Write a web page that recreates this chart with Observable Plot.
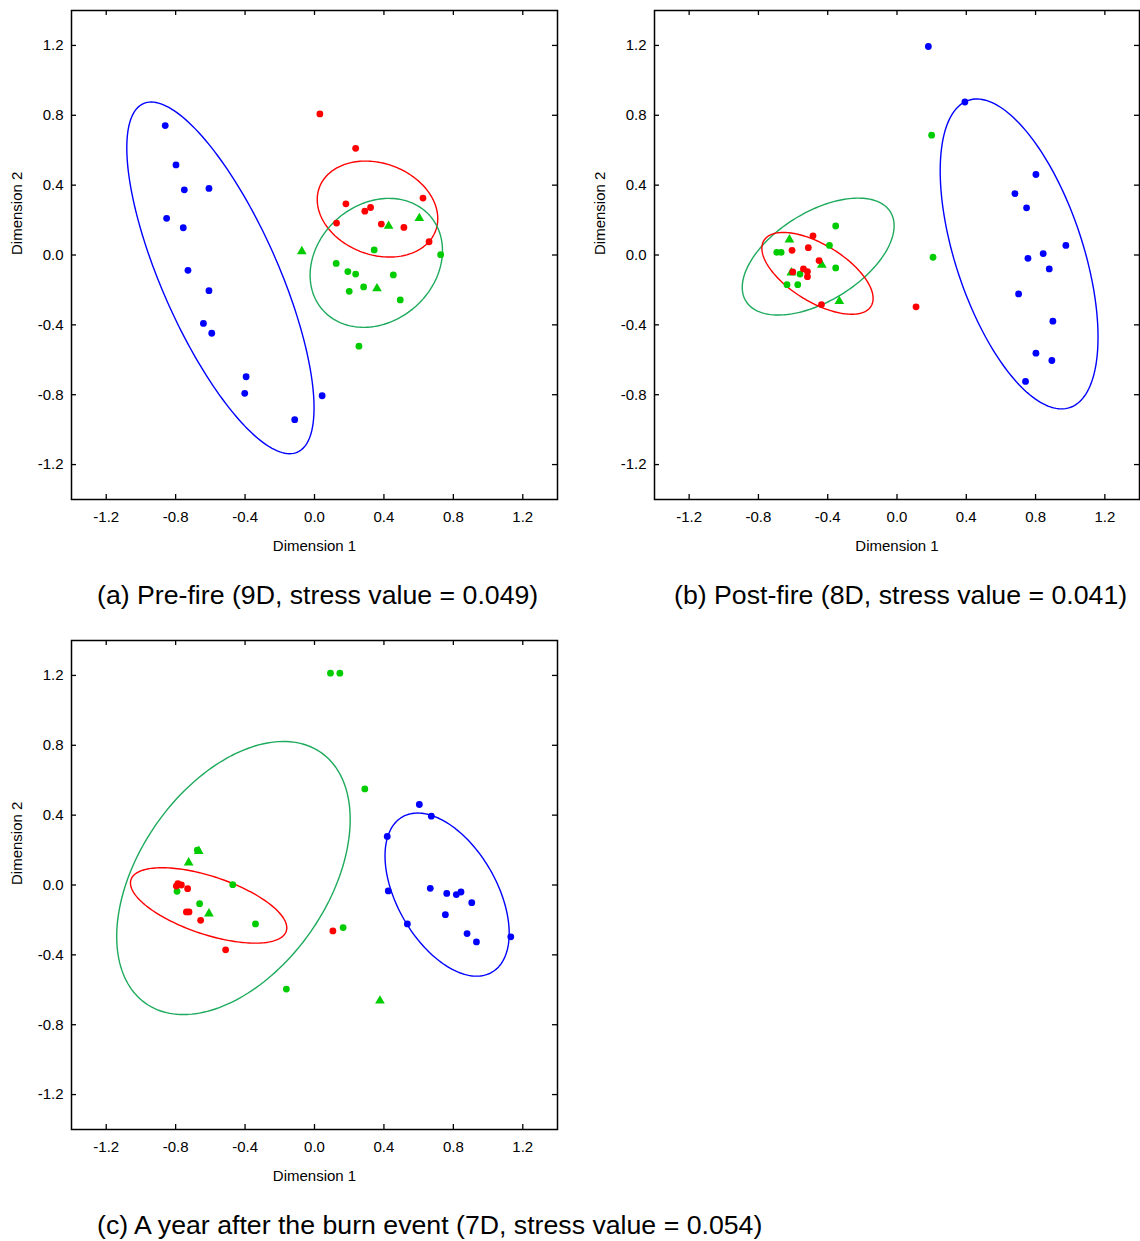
<!DOCTYPE html>
<html>
<head>
<meta charset="utf-8">
<script src="https://cdn.jsdelivr.net/npm/d3@7"></script>
<script src="https://cdn.jsdelivr.net/npm/@observablehq/plot@0.6"></script>
<style>
  body { margin: 0; background: #fff; font-family: Arial, "Liberation Sans", sans-serif; overflow: hidden; }
  #page { position: relative; width: 1140px; height: 1241px; }
  .panel { position: absolute; }
  .panel svg { max-width: none !important; }
  .cap { position: absolute; font-size: 26.7px; line-height: 30px; color: #000; white-space: nowrap; }
</style>
</head>
<body>
<div id="page">
  <div class="panel" id="pa" style="left:0;top:0;width:570px"></div>
  <div class="panel" id="pb" style="left:583px;top:0;width:557px"></div>
  <div class="panel" id="pc" style="left:0;top:630px;width:570px"></div>
  <div class="cap" id="ca" style="left:97px;top:580px">(a) Pre-fire (9D, stress value = 0.049)</div>
  <div class="cap" id="cb" style="left:674px;top:580px">(b) Post-fire (8D, stress value = 0.041)</div>
  <div class="cap" id="cc" style="left:97px;top:1210px">(c) A year after the burn event (7D, stress value = 0.054)</div>
</div>
<script>
// ---------- data ----------
const tickValues = [-1.2, -0.8, -0.4, 0.0, 0.4, 0.8, 1.2];
const axisDomain = [-1.4, 1.4];
const xLabel = "Dimension 1";
const yLabel = "Dimension 2";

// Panel (a) Pre-fire
const aBlue = [[-0.860,0.741],[-0.798,0.516],[-0.750,0.373],[-0.608,0.381],[-0.852,0.210],[-0.756,0.156],[-0.729,-0.088],[-0.608,-0.204],[-0.640,-0.392],[-0.592,-0.448],[-0.394,-0.697],[-0.402,-0.792],[-0.114,-0.943],[0.044,-0.806]];
const aRed = [[0.031,0.808],[0.237,0.611],[0.181,0.293],[0.127,0.183],[0.290,0.251],[0.323,0.272],[0.385,0.177],[0.515,0.158],[0.625,0.326],[0.660,0.076]];
const aGreenDot = [[0.344,0.029],[0.727,0.002],[0.125,-0.048],[0.192,-0.095],[0.237,-0.109],[0.454,-0.114],[0.200,-0.208],[0.283,-0.183],[0.494,-0.257],[0.256,-0.522]];
const aGreenTri = [[-0.073,0.021],[0.427,0.166],[0.604,0.210],[0.360,-0.192]];
// ellipses: [cx, cy, semi-major, semi-minor, angle deg]
const aEllipses = [
  {group: "blue",  params: [-0.542, -0.131, 1.092, 0.335, -66.0]},
  {group: "red",   params: [0.363, 0.263, 0.357, 0.262, -20.0]},
  {group: "green", params: [0.356, -0.045, 0.410, 0.337, 40.2]}
];

// Panel (b) Post-fire
const bBlue = [[0.181,1.194],[0.392,0.876],[0.802,0.461],[0.681,0.352],[0.748,0.270],[0.975,0.055],[0.844,0.008],[0.756,-0.019],[0.879,-0.080],[0.702,-0.223],[0.900,-0.379],[0.802,-0.562],[0.894,-0.604],[0.742,-0.724]];
const bRed = [[-0.485,0.110],[-0.606,0.027],[-0.512,0.042],[-0.450,-0.032],[-0.602,-0.097],[-0.540,-0.080],[-0.517,-0.095],[-0.517,-0.124],[-0.436,-0.284],[0.110,-0.297]];
const bGreenDot = [[-0.354,0.166],[-0.390,0.055],[-0.694,0.015],[-0.669,0.015],[-0.354,-0.074],[-0.560,-0.109],[-0.635,-0.170],[-0.573,-0.170],[0.208,-0.013],[0.200,0.686]];
const bGreenTri = [[-0.621,0.088],[-0.434,-0.057],[-0.610,-0.101],[-0.333,-0.265]];
const bEllipses = [
  {group: "green", params: [-0.455, -0.009, 0.489, 0.255, 31.3]},
  {group: "red",   params: [-0.459, -0.105, 0.362, 0.164, -31.2]},
  {group: "blue",  params: [0.705, 0.006, 0.927, 0.368, -71.6]}
];

// Panel (c) A year after
const cBlue = [[0.604,0.461],[0.673,0.394],[0.419,0.278],[0.425,-0.034],[0.667,-0.019],[0.762,-0.048],[0.817,-0.055],[0.844,-0.040],[0.906,-0.101],[0.754,-0.170],[0.535,-0.223],[0.879,-0.278],[0.933,-0.326],[1.131,-0.297]];
const cRed = [[-0.787,0.008],[-0.767,0.000],[-0.731,-0.021],[-0.796,-0.006],[-0.738,-0.154],[-0.723,-0.154],[-0.656,-0.202],[-0.512,-0.371],[0.106,-0.263]];
const cGreenDot = [[-0.675,0.200],[-0.792,-0.036],[-0.471,0.002],[-0.662,-0.107],[-0.340,-0.223],[0.165,-0.244],[-0.162,-0.596],[0.092,1.213],[0.146,1.213],[0.290,0.550]];
const cGreenTri = [[-0.667,0.194],[-0.725,0.128],[-0.608,-0.164],[0.377,-0.663]];
const cEllipses = [
  {group: "green", params: [-0.467, 0.040, 0.878, 0.541, 54.7]},
  {group: "red",   params: [-0.610, -0.117, 0.471, 0.166, -18.25]},
  {group: "blue",  params: [0.764, -0.055, 0.514, 0.286, -59.8]}
];

// ---------- styles ----------
const dotColor = {blue: "#0000ff", red: "#ff0000", green: "#00cc00"};
const lineColor = {blue: "#0000ff", red: "#ff0000", green: "#1daa5c"};

function ellipsePath(p, n = 180) {
  const [cx, cy, a, b, deg] = p;
  const f = deg * Math.PI / 180;
  const pts = [];
  for (let i = 0; i <= n; i++) {
    const t = 2 * Math.PI * i / n;
    pts.push([cx + a * Math.cos(t) * Math.cos(f) - b * Math.sin(t) * Math.sin(f),
              cy + a * Math.cos(t) * Math.sin(f) + b * Math.sin(t) * Math.cos(f)]);
  }
  return pts;
}

const H = 560, mL = 71, mT = 10, mB = 61;
const frameH = H - mT - mB;

function panel(blue, red, gdot, gtri, ellipses, width, mR) {
  const fw = width - mL - mR;
  const marks = [];
  for (const e of ellipses) {
    marks.push(Plot.line(ellipsePath(e.params), {x: d => d[0], y: d => d[1], stroke: lineColor[e.group], strokeWidth: 1.4, curve: "linear"}));
  }
  marks.push(Plot.dot(blue, {x: d => d[0], y: d => d[1], r: 3.4, fill: dotColor.blue, stroke: "none"}));
  marks.push(Plot.dot(gtri, {x: d => d[0], y: d => d[1], r: 3.6, symbol: "triangle", fill: dotColor.green, stroke: "none"}));
  marks.push(Plot.dot(gdot, {x: d => d[0], y: d => d[1], r: 3.4, fill: dotColor.green, stroke: "none"}));
  marks.push(Plot.dot(red, {x: d => d[0], y: d => d[1], r: 3.4, fill: dotColor.red, stroke: "none"}));
  // inward ticks on all four sides
  marks.push(Plot.tickX(tickValues, {x: d => d, insetTop: frameH - 5, stroke: "#000", strokeWidth: 1.3}));
  marks.push(Plot.tickX(tickValues, {x: d => d, insetBottom: frameH - 5, stroke: "#000", strokeWidth: 1.3}));
  marks.push(Plot.tickY(tickValues, {y: d => d, insetRight: fw - 5, stroke: "#000", strokeWidth: 1.3}));
  marks.push(Plot.tickY(tickValues, {y: d => d, insetLeft: fw - 5, stroke: "#000", strokeWidth: 1.3}));
  marks.push(Plot.frame({stroke: "#000", strokeWidth: 1.5}));
  marks.push(Plot.text([xLabel], {frameAnchor: "bottom", dy: 51, text: d => d, fontSize: 15, fill: "#000"}));
  marks.push(Plot.text([yLabel], {frameAnchor: "left", dx: -54, rotate: -90, text: d => d, fontSize: 15, fill: "#000"}));
  return Plot.plot({
    width, height: H,
    marginLeft: mL, marginRight: mR, marginTop: mT, marginBottom: mB,
    style: {fontFamily: 'Arial, "Liberation Sans", sans-serif', fontSize: "15px", color: "#000", background: "#fff", overflow: "visible", maxWidth: "none"},
    x: {domain: axisDomain, ticks: tickValues, tickFormat: d => d.toFixed(1), tickSize: 0, tickPadding: 12, label: null},
    y: {domain: axisDomain, ticks: tickValues, tickFormat: d => d.toFixed(1), tickSize: 0, tickPadding: 8, label: null},
    marks
  });
}

document.getElementById("pa").appendChild(panel(aBlue, aRed, aGreenDot, aGreenTri, aEllipses, 570, 13));
document.getElementById("pb").appendChild(panel(bBlue, bRed, bGreenDot, bGreenTri, bEllipses, 557, 1));
document.getElementById("pc").appendChild(panel(cBlue, cRed, cGreenDot, cGreenTri, cEllipses, 570, 13));
</script>
</body>
</html>
